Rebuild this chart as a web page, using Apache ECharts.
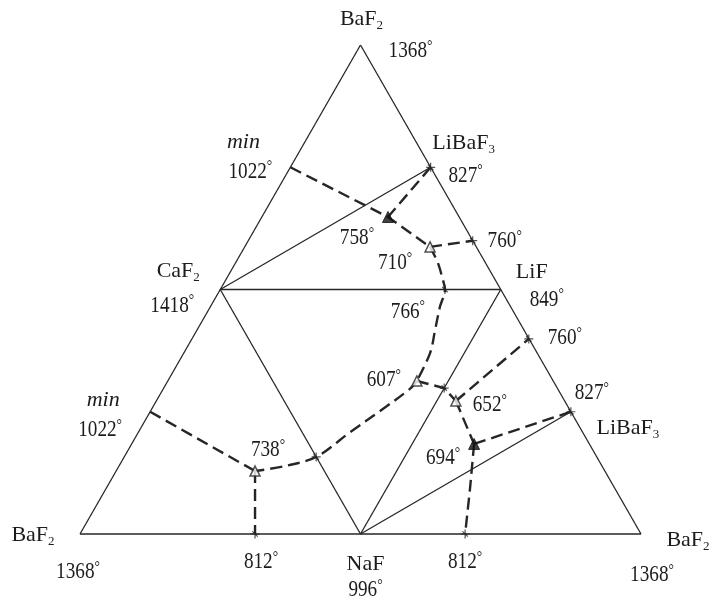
<!DOCTYPE html>
<html>
<head>
<meta charset="utf-8">
<script src="https://cdn.jsdelivr.net/npm/echarts@6/dist/echarts.min.js"></script>
<style>
  html, body { margin: 0; padding: 0; background: #fff; }
  #chart { width: 710px; height: 603px; }
</style>
</head>
<body>
<div id="chart"></div>
<script>
// Composite phase diagram BaF2–CaF2–NaF–LiF.
// Coordinates are in diagram units: every sub-triangle has side 1.
const H = Math.sqrt(3) / 2;

// Corners of the composite triangle
const corners = {
  baTop:    [1, 2 * H],
  baLeft:   [0, 0],
  baRight:  [2, 0],
  caf2:     [0.5, H],
  naf:      [1, 0],
  lif:      [1.5, H],
  libaUp:   [1.25, 1.5 * H],
  libaLow:  [1.75, 0.5 * H]
};
const cornerNames = { baTop: 'BaF2', baLeft: 'BaF2', baRight: 'BaF2', caf2: 'CaF2', naf: 'NaF', lif: 'LiF', libaUp: 'LiBaF3', libaLow: 'LiBaF3' };
const cornerTemps = { baTop: 1368, baLeft: 1368, baRight: 1368, caf2: 1418, naf: 996, lif: 849, libaUp: 827, libaLow: 827 };

// Invariant and boundary points
const points = {
  minUp:  [0.75, 1.299],
  e758:   [1.098, 1.123],
  e710:   [1.248, 1.017],
  b760u:  [1.40, 1.039],
  b766:   [1.301, H],
  e607:   [1.201, 0.542],
  xLeft:  [0.842, 0.273],
  xRight: [1.2985, 0.517],
  e652:   [1.340, 0.471],
  b760l:  [1.60, 0.691],
  e694:   [1.405, 0.319],
  b812r:  [1.373, 0],
  minLow: [0.25, 0.433],
  e738:   [0.624, 0.223],
  b812l:  [0.624, 0]
};
const pointTemps = { minUp: 1022, e758: 758, e710: 710, b760u: 760, b766: 766, e607: 607, e652: 652, b760l: 760, e694: 694, b812r: 812, minLow: 1022, e738: 738, b812l: 812 };

// Point kinds
const openTriangles = ['e710', 'e607', 'e652', 'e738'];
const filledTriangles = ['e758', 'e694'];
const crossings = ['b760u', 'b760l', 'b766', 'xLeft', 'xRight', 'b812l', 'b812r'];
const cornerTicks = ['libaUp', 'libaLow'];

// Solid joins between compounds
const joins = [
  ['baLeft', 'baTop'], ['baTop', 'baRight'], ['baRight', 'baLeft'],
  ['caf2', 'lif'], ['caf2', 'naf'], ['naf', 'lif'],
  ['caf2', 'libaUp'], ['naf', 'libaLow']
];

// Monovariant (boundary) curves, dashed
const curves = [
  [points.minUp, points.e758, points.e710],
  [corners.libaUp, points.e758],
  [points.e710, points.b760u],
  [points.e710, [1.276, 0.960], [1.291, 0.910], points.b766, [1.283, 0.804], [1.266, 0.723], [1.248, 0.641], points.e607],
  [points.e607, points.xRight, points.e652],
  [points.e652, points.b760l],
  [points.e652, points.e694],
  [points.e694, corners.libaLow],
  [points.e694, [1.390, 0.156], points.b812r],
  [points.e607, [1.176, 0.514], [1.070, 0.436], [0.963, 0.361], points.xLeft, [0.731, 0.241], points.e738],
  [points.minLow, points.e738],
  [points.e738, points.b812l]
];
const smoothCurves = [3, 9];

// Label placement: [anchor, text kind, offset x, offset y] (pixels)
const labelLayout = [
  ['baTop', 'name', 1, -26], ['baTop', 'temp', 50, 6],
  ['minUp', 'min', -47, -25], ['minUp', 'temp', -40, 4],
  ['libaUp', 'name', 33, -24], ['libaUp', 'temp', 35, 8],
  ['e758', 'temp', -31, 21],
  ['e710', 'temp', -35, 16],
  ['b760u', 'temp', 32, 0],
  ['caf2', 'name', -42, -18], ['caf2', 'temp', -48, 16],
  ['lif', 'name', 31, -17], ['lif', 'temp', 46, 10],
  ['b766', 'temp', -37, 22],
  ['b760l', 'temp', 36, -1],
  ['e607', 'temp', -33, -1],
  ['libaLow', 'temp', 21, -19], ['libaLow', 'name', 57, 16],
  ['e652', 'temp', 34, 4],
  ['e694', 'temp', -31, 14],
  ['minLow', 'min', -47, -12], ['minLow', 'temp', -50, 18],
  ['e738', 'temp', 13, -21],
  ['baLeft', 'name', -47, 1], ['baLeft', 'temp', -2, 38],
  ['b812l', 'temp', 6, 28],
  ['naf', 'name', 5, 30], ['naf', 'temp', 5, 56],
  ['b812r', 'temp', 0, 28],
  ['baRight', 'name', 47, 6], ['baRight', 'temp', 11, 41]
];

const INK = '#262626';
const TEXT_INK = '#1c1c1c';
const FONT = '"Liberation Serif", "DejaVu Serif", serif';
// Tall, narrow figures as in the printed diagram
const NUM_SIZE = 24, NUM_SCALE_X = 0.8;
const NAME_SIZE = 22;

function xyOf(key) { return corners[key] || points[key]; }
function formula(name) { return name.replace(/([A-Za-z]+)(\d)?/g, (m, a, d) => `{n|${a}}` + (d ? `{s|${d}}` : '')); }
function labelText(key, kind) {
  if (kind === 'name') return formula(cornerNames[key]);
  if (kind === 'min') return '{i|min}';
  const t = cornerTemps[key] !== undefined ? cornerTemps[key] : pointTemps[key];
  return `{d|${t}}{o|°}`;
}

const series = [];

joins.forEach(([a, b]) => series.push({
  type: 'line', data: [corners[a], corners[b]], showSymbol: false, silent: true,
  lineStyle: { color: INK, width: 1.3 }, z: 2
}));

curves.forEach((c, i) => series.push({
  type: 'line', data: c, showSymbol: false, silent: true,
  smooth: smoothCurves.includes(i) ? 0.35 : false,
  lineStyle: { color: INK, width: 2.4, type: [12, 6] }, z: 3
}));

series.push({
  type: 'scatter', data: openTriangles.map(k => points[k]), symbol: 'triangle', symbolSize: 10,
  itemStyle: { color: '#fff', borderColor: INK, borderWidth: 1.5 }, z: 5, silent: true
});
series.push({
  type: 'scatter', data: filledTriangles.map(k => points[k]), symbol: 'triangle', symbolSize: 11,
  itemStyle: { color: '#111', borderColor: '#111', borderWidth: 1 }, z: 5, silent: true
});
series.push({
  type: 'scatter', data: crossings.map(k => points[k]).concat(cornerTicks.map(k => corners[k])),
  symbol: 'path://M0,5L10,5M5,0L5,10M2,2L8,8', symbolSize: 9,
  itemStyle: { color: 'none', borderColor: INK, borderWidth: 1.2 }, z: 5, silent: true
});

// Text annotations, placed through the cartesian scale
const richStyles = {
  n: { fontFamily: FONT, fontSize: NAME_SIZE, fill: TEXT_INK, lineHeight: 26 },
  s: { fontFamily: FONT, fontSize: 13, fill: TEXT_INK, lineHeight: 13, verticalAlign: 'bottom' },
  i: { fontFamily: FONT, fontSize: NAME_SIZE, fontStyle: 'italic', fill: TEXT_INK, lineHeight: 26 },
  d: { fontFamily: FONT, fontSize: NUM_SIZE, fill: TEXT_INK, lineHeight: 26 },
  o: { fontFamily: FONT, fontSize: 17, fill: TEXT_INK, lineHeight: 26, verticalAlign: 'top' }
};
series.push({
  type: 'custom', silent: true, z: 10,
  data: labelLayout.map(([key], i) => [xyOf(key)[0], xyOf(key)[1], i]),
  encode: { x: 0, y: 1 },
  renderItem(params, api) {
    const [key, kind, dx, dy] = labelLayout[api.value(2)];
    const p = api.coord([api.value(0), api.value(1)]);
    return {
      type: 'text',
      x: p[0] + dx, y: p[1] + dy,
      scaleX: kind === 'temp' ? NUM_SCALE_X : 1,
      style: {
        text: labelText(key, kind), rich: richStyles,
        align: 'center', verticalAlign: 'middle', fill: TEXT_INK
      }
    };
  }
});

const chart = echarts.init(document.getElementById('chart'), null, { renderer: 'canvas' });
chart.setOption({
  animation: false,
  backgroundColor: '#fff',
  grid: { left: 0, right: 0, top: 0, bottom: 0 },
  xAxis: { type: 'value', min: -80 / 280.5, max: 630 / 280.5, show: false },
  yAxis: { type: 'value', min: -69 / 282.3, max: 534 / 282.3, show: false },
  series
});
</script>
</body>
</html>
